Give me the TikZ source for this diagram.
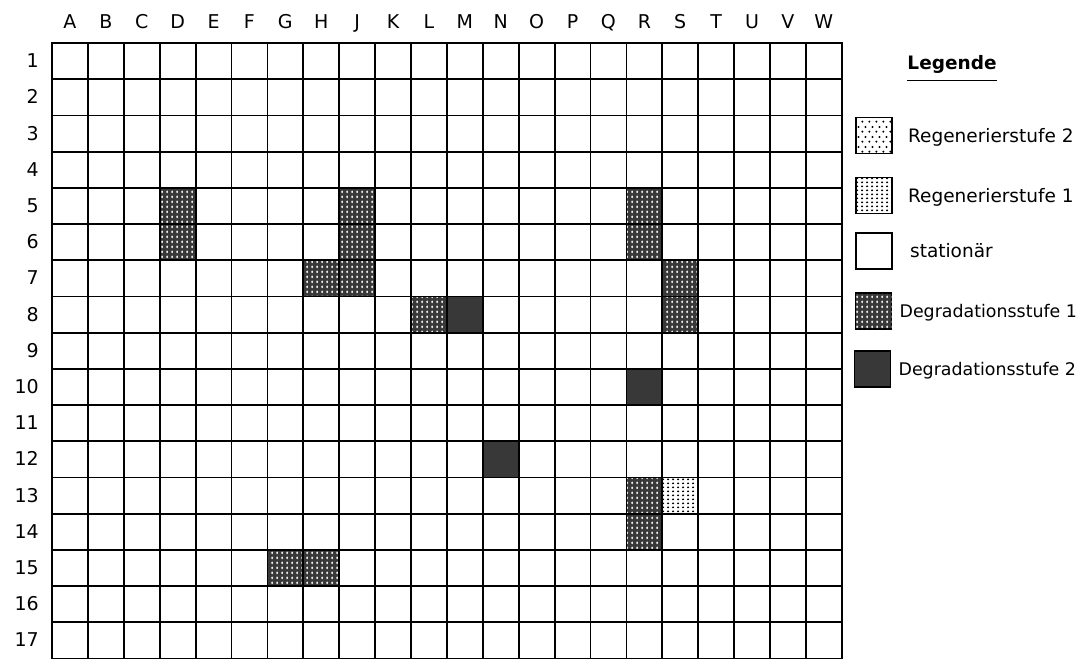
\documentclass[tikz,border=0pt]{standalone}
\usepackage{fontspec}
\setmainfont{DejaVu Sans}
\usetikzlibrary{positioning, patterns}

\definecolor{darkgrey}{HTML}{383838}

% fill patterns of the stages
\pgfdeclarepatternformonly{regsparse}{\pgfpointorigin}{\pgfqpoint{7pt}{10pt}}{\pgfqpoint{7pt}{10pt}}{%
  \pgfpathcircle{\pgfqpoint{1.5pt}{2.5pt}}{1.2pt}%
  \pgfpathcircle{\pgfqpoint{5pt}{7.5pt}}{1.2pt}%
  \pgfusepath{fill}}
\pgfdeclarepatternformonly{regdense}{\pgfpointorigin}{\pgfqpoint{4.5pt}{4pt}}{\pgfqpoint{4.5pt}{4pt}}{%
  \pgfpathcircle{\pgfqpoint{2.25pt}{2pt}}{1.25pt}%
  \pgfusepath{fill}}
\pgfdeclarepatternformonly{degholes}{\pgfpointorigin}{\pgfqpoint{5pt}{5pt}}{\pgfqpoint{5pt}{5pt}}{%
  \pgfpathellipse{\pgfqpoint{2.5pt}{2.5pt}}{\pgfqpoint{1.1pt}{0pt}}{\pgfqpoint{0pt}{1.8pt}}%
  \pgfusepath{fill}}

\newcommand{\stagecell}[3]{\path[#3] ({52+(#1-1)*35.9},{43+(#2-1)*36.2}) rectangle ++(35.9,36.2);}

\begin{document}
\begin{tikzpicture}[
        x=1pt, y=-1pt,
        gridline/.style={draw=black, line width=1.8pt, line cap=rect},
        axislabel/.style={font=\fontsize{19}{19}\selectfont, inner sep=0pt, text height=13pt, text depth=0pt},
        legbox/.style={draw=black, line width=1.8pt, minimum size=36pt, inner sep=0pt},
        legtext/.style={font=\fontsize{18.5}{18.5}\selectfont, inner sep=0pt, text height=13pt, text depth=0pt},
        longtext/.style={legtext, font=\fontsize{17.4}{17.4}\selectfont},
        regtwo/.style={fill=white, postaction={pattern=regsparse}},
        regone/.style={fill=white, postaction={pattern=regdense}},
        stat/.style={fill=white},
        degone/.style={fill=darkgrey, postaction={pattern=degholes, pattern color=white}},
        degtwo/.style={fill=darkgrey}
    ]
        \useasboundingbox[fill=white] (0,0) rectangle (1086,664);

        % Marked cells
        \stagecell{4}{5}{degone}
        \stagecell{4}{6}{degone}
        \stagecell{9}{5}{degone}
        \stagecell{9}{6}{degone}
        \stagecell{8}{7}{degone}
        \stagecell{9}{7}{degone}
        \stagecell{17}{5}{degone}
        \stagecell{17}{6}{degone}
        \stagecell{18}{7}{degone}
        \stagecell{18}{8}{degone}
        \stagecell{11}{8}{degone}
        \stagecell{12}{8}{degtwo}
        \stagecell{17}{10}{degtwo}
        \stagecell{13}{12}{degtwo}
        \stagecell{17}{13}{degone}
        \stagecell{18}{13}{regone}
        \stagecell{17}{14}{degone}
        \stagecell{7}{15}{degone}
        \stagecell{8}{15}{degone}

        % Grid
        \foreach \i in {0,...,22}
            \draw[gridline] ({52+\i*35.9},43) -- ({52+\i*35.9},658.4);
        \foreach \j in {0,...,17}
            \draw[gridline] (52,{43+\j*36.2}) -- (841.8,{43+\j*36.2});

        % Column and row labels
        \foreach \c [count=\i] in {A,B,C,D,E,F,G,H,J,K,L,M,N,O,P,Q,R,S,T,U,V,W}
            \node[axislabel] (col\c) at ({52+(\i-0.5)*35.9},22) {\c};
        \foreach \r in {1,...,17}
            \node[axislabel, anchor=east] (row\r) at (39,{43+(\r-0.5)*36.2}) {\r};

        % Legend
        \node[font=\bfseries\fontsize{18.5}{18.5}\selectfont, inner sep=0pt, text height=13pt, text depth=0pt] (legtitle) at (952,63) {Legende};
        \draw[line width=1.5pt] ([yshift=-11pt]legtitle.south west) -- ([yshift=-11pt]legtitle.south east);

        \node[legbox, regtwo] (lregtwo) at (874,135.5) {};
        \node[legbox, regone] (lregone) at (874,195.5) {};
        \node[legbox, stat] (lstat) at (874,251) {};
        \node[legbox, degone] (ldegone) at (873.5,311) {};
        \node[legbox, degtwo] (ldegtwo) at (872.5,369) {};

        \node[legtext, right=15pt of lregtwo] (tregtwo) {Regenerierstufe 2};
        \node[legtext, right=15pt of lregone] (tregone) {Regenerierstufe 1};
        \node[legtext, right=17pt of lstat] (tstat) {stationär};
        \node[longtext, right=7pt of ldegone] (tdegone) {Degradationsstufe 1};
        \node[longtext, right=7pt of ldegtwo] (tdegtwo) {Degradationsstufe 2};

    \end{tikzpicture}
\end{document}
